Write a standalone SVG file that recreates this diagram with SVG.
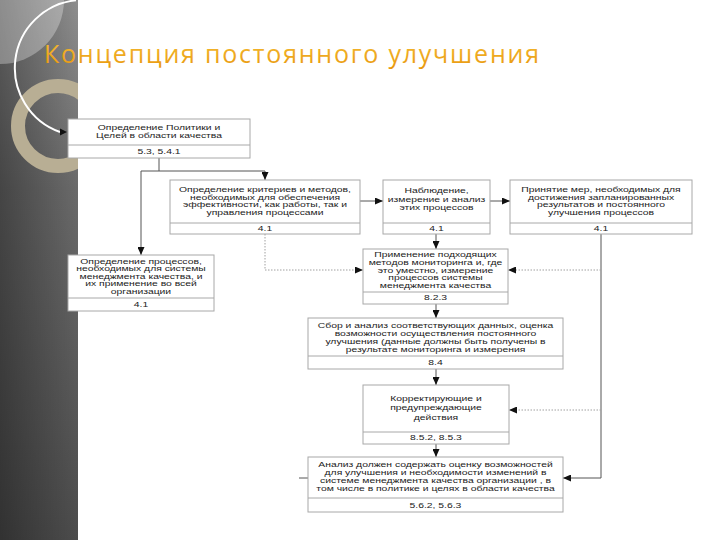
<svg xmlns="http://www.w3.org/2000/svg" width="720" height="540" viewBox="0 0 720 540">
<defs>
  <linearGradient id="barV" x1="0" y1="0" x2="0" y2="1">
    <stop offset="0" stop-color="#8e8e8e"/>
    <stop offset="0.35" stop-color="#6a6a6a"/>
    <stop offset="1" stop-color="#4c4c4c"/>
  </linearGradient>
  <linearGradient id="barH" x1="0" y1="0" x2="1" y2="0">
    <stop offset="0" stop-color="#000" stop-opacity="0.35"/>
    <stop offset="1" stop-color="#000" stop-opacity="0"/>
  </linearGradient>
  <linearGradient id="gold" x1="0" y1="0" x2="0" y2="1">
    <stop offset="0" stop-color="#F6C23A"/>
    <stop offset="1" stop-color="#E8950C"/>
  </linearGradient>
  <clipPath id="barClip"><rect x="0" y="0" width="78" height="540"/></clipPath>
  <marker id="ah" viewBox="0 0 8 7" refX="8" refY="3.5" markerWidth="8" markerHeight="7" markerUnits="userSpaceOnUse" orient="auto">
    <path d="M0,0 L8,3.5 L0,7 z" fill="#111"/>
  </marker>
  <style>
    .box{fill:#fff;stroke:#a8a8a8;stroke-width:1}
    .div{stroke:#a8a8a8;stroke-width:1}
    .t{font-family:"Liberation Sans",Arial,sans-serif;font-size:7px;fill:#222;text-anchor:middle}
    .solid{fill:none;stroke:#555;stroke-width:1}
    .dot{fill:none;stroke:#a0a0a0;stroke-width:1;stroke-dasharray:1.5 1.5}
  </style>
</defs>

<rect width="720" height="540" fill="#fff"/>

<!-- left decorative bar -->
<g id="sidebar" clip-path="url(#barClip)">
  <rect x="0" y="0" width="78" height="540" fill="url(#barV)"/>
  <rect x="0" y="0" width="78" height="540" fill="url(#barH)"/>
  <circle cx="0" cy="0" r="64" fill="#fff" fill-opacity="0.3"/>
  <circle cx="58" cy="126" r="40" fill="none" stroke="#b8ae94" stroke-width="14"/>
  <path d="M76,0.3 A68,68 0 0 0 60,132" fill="none" stroke="#fff" stroke-width="2"/>
</g>
<polygon points="60,128.5 67,132 60,135.5" fill="#111"/>

<text id="title" x="44" y="63" font-family="'Open Sans','Liberation Sans',sans-serif" font-size="25" fill="url(#gold)" textLength="495" lengthAdjust="spacing">Концепция постоянного улучшения</text>

<!-- connectors -->
<g id="connectors">
  <path class="solid" d="M159,158 V171 M141,171 H265"/>
  <path class="solid" d="M265,171 V180" marker-end="url(#ah)"/>
  <path class="solid" d="M141,171 V255" marker-end="url(#ah)"/>
  <path class="solid" d="M360,201 H383" marker-end="url(#ah)"/>
  <path class="solid" d="M490,201 H510" marker-end="url(#ah)"/>
  <path class="dot" d="M265,234 V270 H363" marker-end="url(#ah)"/>
  <path class="solid" d="M436,234 V249" marker-end="url(#ah)"/>
  <path class="solid" d="M601,234 V478 H563" marker-end="url(#ah)"/>
  <path class="dot" d="M601,270 H508" marker-end="url(#ah)"/>
  <path class="dot" d="M601,410 H509" marker-end="url(#ah)"/>
  <path class="solid" d="M436,304 V318" marker-end="url(#ah)"/>
  <path class="solid" d="M436,369 V385" marker-end="url(#ah)"/>
  <path class="solid" d="M436,444 V457" marker-end="url(#ah)"/>
  <path class="solid" d="M299,478 H308" stroke="#aaa"/>
</g>

<!-- nodes -->
<g id="n1">
  <rect class="box" x="68" y="119" width="182" height="39"/>
  <line class="div" x1="68" y1="145" x2="250" y2="145"/>
  <g transform="translate(159,0) scale(1.48,1)">
    <text class="t" x="0" y="130">Определение Политики и</text>
    <text class="t" x="0" y="138.5">Целей в области качества</text>
    <text class="t" x="0" y="154.5">5.3, 5.4.1</text>
  </g>
</g>

<g id="n2">
  <rect class="box" x="170" y="180" width="190" height="54"/>
  <line class="div" x1="170" y1="223" x2="360" y2="223"/>
  <g transform="translate(265,0) scale(1.48,1)">
    <text class="t" x="0" y="192.5">Определение критериев и методов,</text>
    <text class="t" x="0" y="200">необходимых для обеспечения</text>
    <text class="t" x="0" y="207.5">эффективности, как работы, так и</text>
    <text class="t" x="0" y="215">управления процессами</text>
    <text class="t" x="0" y="231">4.1</text>
  </g>
</g>

<g id="n3">
  <rect class="box" x="383" y="180" width="107" height="54"/>
  <line class="div" x1="383" y1="223" x2="490" y2="223"/>
  <g transform="translate(436.5,0) scale(1.48,1)">
    <text class="t" x="0" y="193.5">Наблюдение,</text>
    <text class="t" x="0" y="202">измерение и анализ</text>
    <text class="t" x="0" y="210.5">этих процессов</text>
    <text class="t" x="0" y="231">4.1</text>
  </g>
</g>

<g id="n4">
  <rect class="box" x="510" y="180" width="182" height="54"/>
  <line class="div" x1="510" y1="223" x2="692" y2="223"/>
  <g transform="translate(601,0) scale(1.48,1)">
    <text class="t" x="0" y="192.5">Принятие мер, необходимых для</text>
    <text class="t" x="0" y="200">достижения запланированных</text>
    <text class="t" x="0" y="207.5">результатов и постоянного</text>
    <text class="t" x="0" y="215">улучшения процессов</text>
    <text class="t" x="0" y="231">4.1</text>
  </g>
</g>

<g id="n5">
  <rect class="box" x="68" y="255" width="146" height="56"/>
  <line class="div" x1="68" y1="298" x2="214" y2="298"/>
  <g transform="translate(141,0) scale(1.48,1)">
    <text class="t" x="0" y="264">Определение процессов,</text>
    <text class="t" x="0" y="271.5">необходимых для системы</text>
    <text class="t" x="0" y="279">менеджмента качества, и</text>
    <text class="t" x="0" y="286.5">их применение во всей</text>
    <text class="t" x="0" y="294">организации</text>
    <text class="t" x="0" y="307">4.1</text>
  </g>
</g>

<g id="n6">
  <rect class="box" x="363" y="249" width="145" height="55"/>
  <line class="div" x1="363" y1="292" x2="508" y2="292"/>
  <g transform="translate(435.5,0) scale(1.48,1)">
    <text class="t" x="0" y="257.5">Применение подходящих</text>
    <text class="t" x="0" y="265.5">методов мониторинга и, где</text>
    <text class="t" x="0" y="273">это уместно, измерение</text>
    <text class="t" x="0" y="280.5">процессов системы</text>
    <text class="t" x="0" y="288">менеджмента качества</text>
    <text class="t" x="0" y="300.5">8.2.3</text>
  </g>
</g>

<g id="n7">
  <rect class="box" x="308" y="318" width="255" height="51"/>
  <line class="div" x1="308" y1="356" x2="563" y2="356"/>
  <g transform="translate(435.5,0) scale(1.48,1)">
    <text class="t" x="0" y="328">Сбор и анализ соответствующих данных, оценка</text>
    <text class="t" x="0" y="336">возможности осуществления постоянного</text>
    <text class="t" x="0" y="344">улучшения (данные должны быть получены в</text>
    <text class="t" x="0" y="352">результате мониторинга и измерения</text>
    <text class="t" x="0" y="365">8.4</text>
  </g>
</g>

<g id="n8">
  <rect class="box" x="363" y="385" width="146" height="59"/>
  <line class="div" x1="363" y1="432" x2="509" y2="432"/>
  <g transform="translate(436,0) scale(1.48,1)">
    <text class="t" x="0" y="401.5">Корректирующие и</text>
    <text class="t" x="0" y="410.5">предупреждающие</text>
    <text class="t" x="0" y="420">действия</text>
    <text class="t" x="0" y="440.5">8.5.2, 8.5.3</text>
  </g>
</g>

<g id="n9">
  <rect class="box" x="308" y="457" width="255" height="55"/>
  <line class="div" x1="308" y1="498" x2="563" y2="498"/>
  <g transform="translate(435.5,0) scale(1.48,1)">
    <text class="t" x="0" y="467.5">Анализ должен содержать оценку возможностей</text>
    <text class="t" x="0" y="475.5">для улучшения и необходимости изменений в</text>
    <text class="t" x="0" y="483.5">системе менеджмента качества организации , в</text>
    <text class="t" x="0" y="491">том числе в политике и целях в области качества</text>
    <text class="t" x="0" y="508">5.6.2, 5.6.3</text>
  </g>
</g>
</svg>
